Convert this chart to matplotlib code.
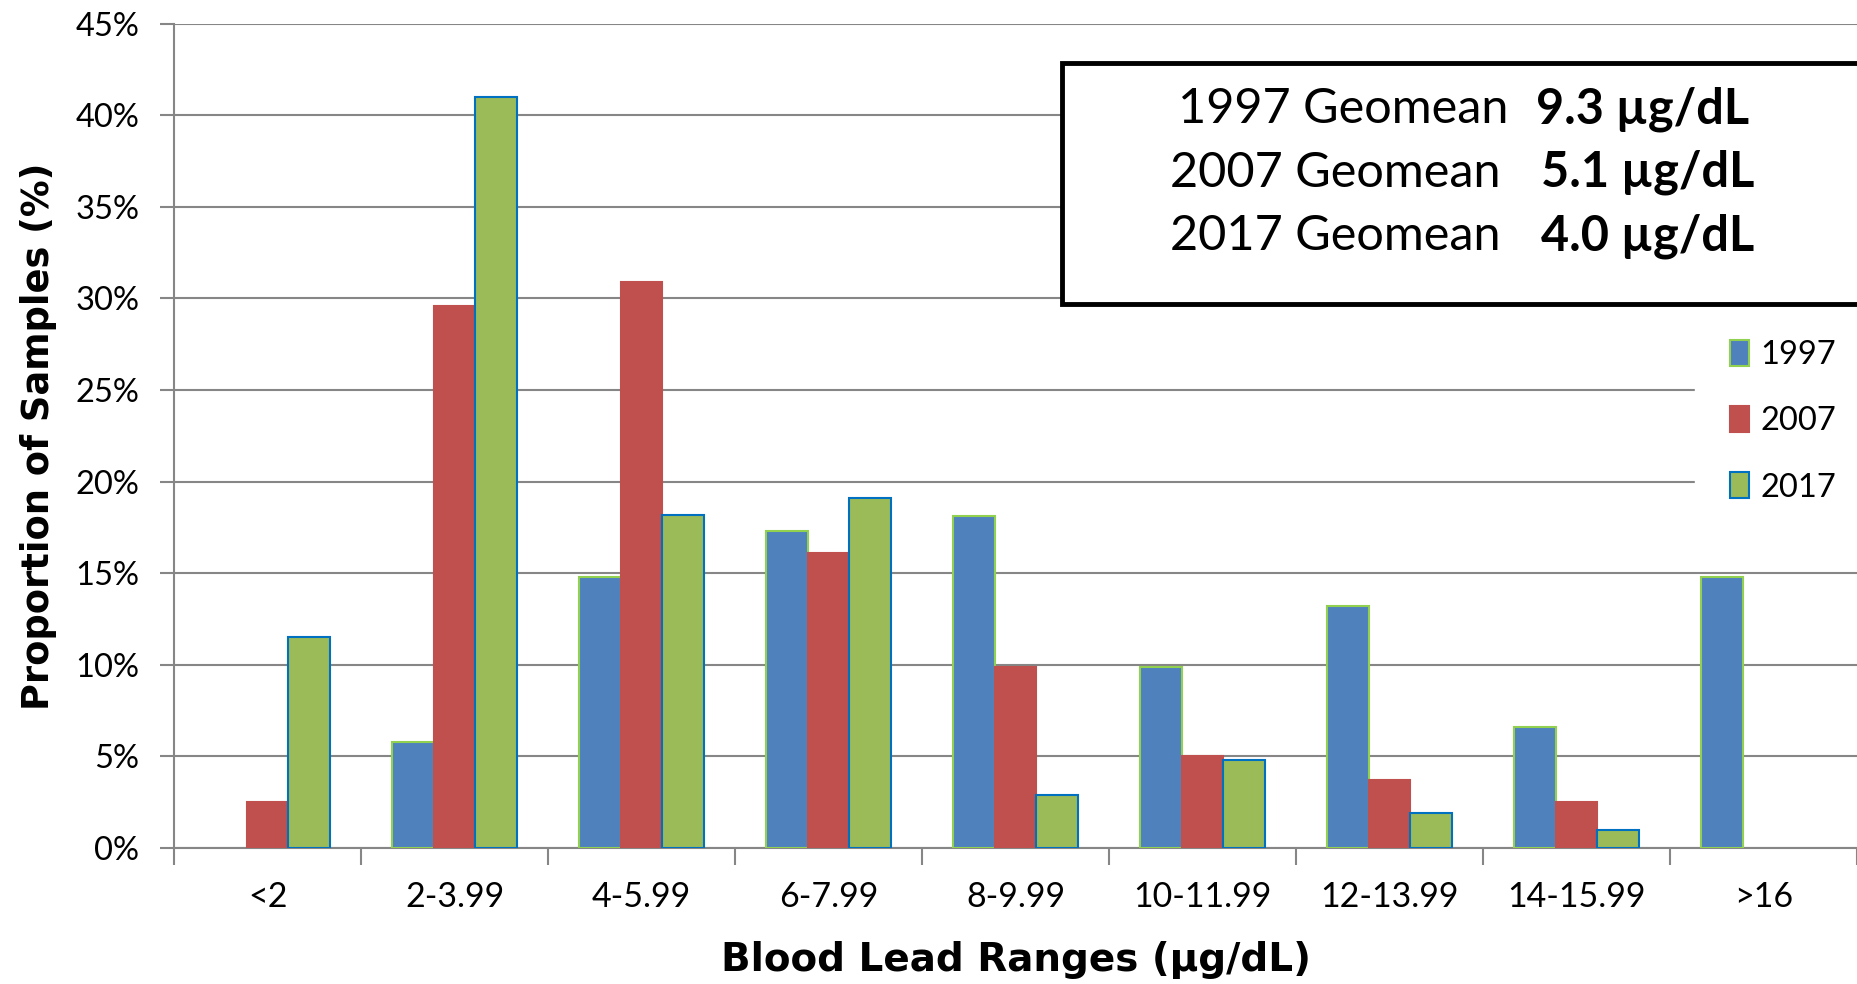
import matplotlib
matplotlib.use("Agg")
import matplotlib.pyplot as plt
import numpy as np

# blood lead ranges (ug/dL) and proportion of samples per year
categories = ["<2", "2-3.99", "4-5.99", "6-7.99", "8-9.99",
              "10-11.99", "12-13.99", "14-15.99", ">16"]
years = ["1997", "2007", "2017"]
pct_1997 = [0.0, 5.8, 14.8, 17.3, 18.1, 9.9, 13.2, 6.6, 14.8]
pct_2007 = [2.5, 29.6, 30.9, 16.1, 9.9, 5.0, 3.7, 2.5, 0.0]
pct_2017 = [11.5, 41.0, 18.2, 19.1, 2.9, 4.8, 1.9, 1.0, 0.0]
geomeans = ["9.3 µg/dL", "5.1 µg/dL", "4.0 µg/dL"]

fills = ["#4F81BD", "#C0504D", "#9BBB59"]
edges = ["#92D050", "#C0504D", "#0070C0"]
body_font = "Lato"

fig = plt.figure(figsize=(18.57, 9.84), dpi=100)
ax = fig.add_axes([0.0937, 0.1382, 1 - 0.0937, 0.9759 - 0.1382])

x = np.arange(len(categories))
w = 1 / 4.5
for i, (vals, yr) in enumerate(zip([pct_1997, pct_2007, pct_2017], years)):
    v = np.array(vals) / 100
    keep = v > 0  # empty bins draw nothing
    ax.bar((x + (i - 1) * w)[keep], v[keep], w, color=fills[i], edgecolor=edges[i],
           linewidth=1.5, label=yr, zorder=3)

ax.set_xlim(-0.5, len(categories) - 0.5)
ax.set_ylim(0, 0.45)
yt = np.arange(0, 0.451, 0.05)
ax.set_yticks(yt)
ax.set_yticklabels([f"{int(round(t * 100))}%" for t in yt],
                   fontname=body_font, fontsize=23.5)
ax.set_xticks(x)
ax.set_xticklabels(categories, fontname=body_font, fontsize=24.5)
ax.set_xticks(np.arange(-0.5, len(categories)), minor=True)
ax.tick_params(axis="x", which="major", length=0, pad=24)
ax.tick_params(axis="x", which="minor", length=12, width=1.5, color="#868686")
ax.tick_params(axis="y", length=10, width=1.5, color="#868686", pad=15)

ax.grid(axis="y", color="#868686", linewidth=1.5, zorder=0)
ax.set_axisbelow(True)
for s in ["top", "right"]:
    ax.spines[s].set_visible(False)
for s in ["left", "bottom"]:
    ax.spines[s].set_color("#868686")
    ax.spines[s].set_linewidth(1.5)

ax.set_ylabel("Proportion of Samples (%)", fontsize=26.5, fontweight="bold", labelpad=13)
ax.set_xlabel("Blood Lead Ranges (µg/dL)", fontsize=28, fontweight="bold", labelpad=20)

leg = ax.legend(loc="upper left", bbox_to_anchor=(0.904, 0.658), frameon=True,
                fancybox=False, edgecolor="white", framealpha=1,
                prop={"family": body_font, "size": 23.5}, handlelength=0.6,
                handleheight=0.85, handletextpad=0.35, labelspacing=1.1,
                borderaxespad=0, borderpad=1.05)
leg.set_zorder(5)

# geomean summary box
box = plt.Rectangle((0.572, 0.691), 0.5, 0.245, transform=fig.transFigure,
                    facecolor="white", edgecolor="black", linewidth=3.5,
                    clip_on=False, zorder=6)
fig.patches.append(box)
name_right = [0.812, 0.808, 0.808]
value_left = [0.827, 0.830, 0.830]
for i, (yr, gm) in enumerate(zip(years, geomeans)):
    yy = 0.889 - i * 0.0645
    fig.text(name_right[i], yy, f"{yr} Geomean", ha="right", va="center",
             fontname=body_font, fontsize=35, zorder=7)
    fig.text(value_left[i], yy, gm, ha="left", va="center",
             fontname=body_font, fontsize=35, fontweight="bold", zorder=7)

fig.savefig("out.png", dpi=100)
